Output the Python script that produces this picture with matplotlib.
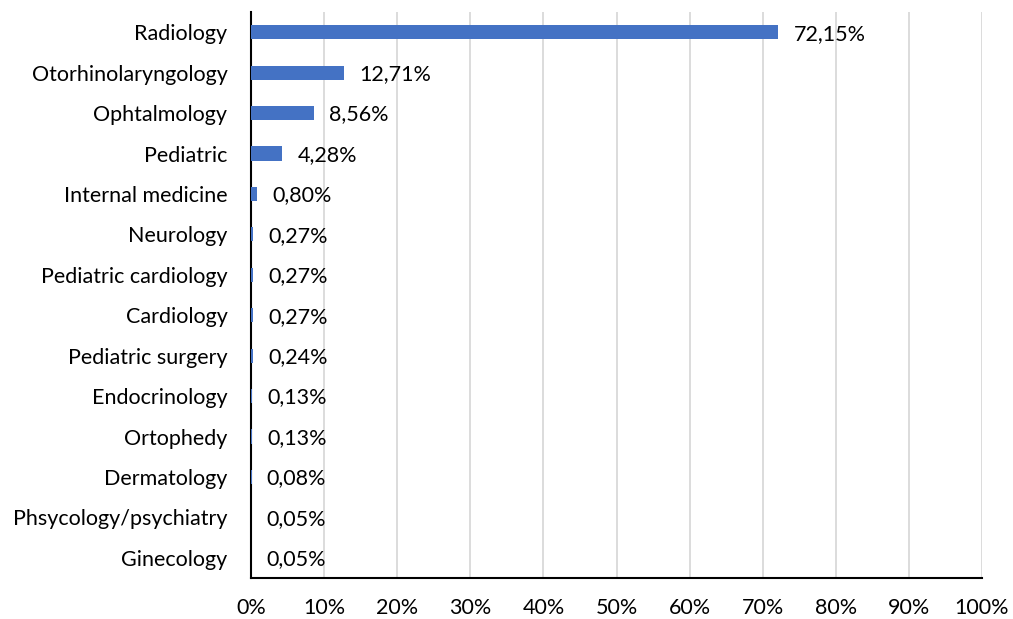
import matplotlib
matplotlib.use("Agg")
import matplotlib.pyplot as plt
from matplotlib.ticker import FuncFormatter

# especialidades y porcentaje de solicitudes
especialidades = ["Radiology", "Otorhinolaryngology", "Ophtalmology", "Pediatric",
                  "Internal medicine", "Neurology", "Pediatric cardiology", "Cardiology",
                  "Pediatric surgery", "Endocrinology", "Ortophedy", "Dermatology",
                  "Phsycology/psychiatry", "Ginecology"]
porcentajes = [72.15, 12.71, 8.56, 4.28, 0.80, 0.27, 0.27, 0.27,
               0.24, 0.13, 0.13, 0.08, 0.05, 0.05]
ticks_x = [0, 10, 20, 30, 40, 50, 60, 70, 80, 90, 100]

plt.rcParams['font.family'] = ['Lato', 'DejaVu Sans']
tam = 15.5

fig = plt.figure(figsize=(10.13, 6.19), dpi=100)
ax = fig.add_axes([251 / 1013, 41 / 619, 731 / 1013, 566 / 619])

pos = list(range(len(especialidades)))
ax.barh(pos, porcentajes, height=0.35, color='#4472C4', zorder=3)

for y, v in zip(pos, porcentajes):
    etiqueta = f"{v:.2f}".replace('.', ',') + "%"
    ax.annotate(etiqueta, (v, y), xytext=(11, -1), textcoords='offset points',
                ha='left', va='center', fontsize=tam, color='black')

ax.set_xlim(0, 100)
ax.set_ylim(len(especialidades) - 0.5, -0.5)
ax.set_yticks(pos)
ax.set_yticklabels(especialidades, fontsize=tam)
ax.set_xticks(ticks_x)
ax.xaxis.set_major_formatter(FuncFormatter(lambda x, _: f"{int(x)}%"))
ax.tick_params(axis='x', labelsize=tam, length=0, pad=14.5)
ax.tick_params(axis='y', length=0, pad=17)

ax.grid(axis='x', color='#D9D9D9', linewidth=1.3, zorder=0)
for lado in ['top', 'right']:
    ax.spines[lado].set_visible(False)
for lado in ['left', 'bottom']:
    ax.spines[lado].set_color('black')
    ax.spines[lado].set_linewidth(1.5)

fig.savefig("out.png", dpi=100)
